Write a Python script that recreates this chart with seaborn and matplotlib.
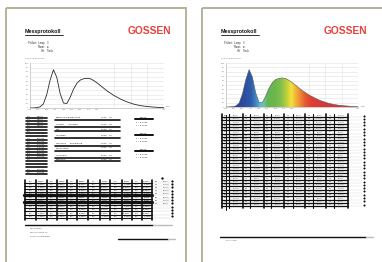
import numpy as np
import matplotlib
matplotlib.use("Agg")
import matplotlib.pyplot as plt
import seaborn as sns
import pandas as pd
from matplotlib.colors import LinearSegmentedColormap
from matplotlib.patches import Rectangle, Polygon

# ---------------- data ----------------
wavelengths = [380, 390, 400, 410, 420, 430, 440, 450, 460, 470, 480, 490, 500,
               510, 520, 530, 540, 550, 560, 570, 580, 590, 600, 610, 620, 630,
               640, 650, 660, 670, 680, 690, 700, 710, 720, 730, 740, 750, 760,
               770, 780]
power = [0.0, 0.2, 0.8, 2.5, 9.0, 30.0, 62.0, 85.0, 68.0, 32.0, 11.0, 10.0, 24.0,
         42.0, 55.0, 62.0, 65.0, 66.0, 65.0, 61.0, 56.0, 50.0, 44.0, 38.0, 33.0,
         28.0, 24.0, 20.0, 16.5, 13.5, 11.0, 8.5, 6.8, 5.3, 4.2, 3.3, 2.6, 2.0,
         1.5, 1.0, 0.6]
x_tick_values = [380, 405, 430, 455, 480, 505, 530, 555, 580, 780]
x_grid_values = [380, 430, 480, 530, 580, 630, 680, 730, 780]
y_tick_values = [0, 10, 20, 30, 40, 50, 60, 70, 80, 90, 100]
y_axis_label = "Leistung [mW/nm]"
x_axis_label = "[nm]"
title_text = "Messprotokoll"
brand_text = "GOSSEN"
info_labels = ["Prüfort:  Lamp", "Raum:", "Ort:"]
info_values = ["3", "xx", "Tisch"]
address_lines = ["Musterfirma", "Musterstraße 12", "12345 Musterstadt"]
signature_label = "Unterschrift"
colour_labels = ["Farbort", "Farbort", "Farbort"]
colour_x = ["x = 0,4483", "x = 0,4481", "x = 0,4479"]
colour_y = ["y = 0,4067", "y = 0,4064", "y = 0,4062"]

sns.set_theme(style="white")
plt.rcParams['font.family'] = ['Liberation Sans', 'DejaVu Sans']

W, H = 382, 262
fig = plt.figure(figsize=(W / 100, H / 100), dpi=100)
bg = fig.add_axes([0, 0, 1, 1])
bg.set_xlim(0, W)
bg.set_ylim(H, 0)
bg.axis('off')

BORDER = '#b0ab94'
bg.add_patch(Rectangle((6, 8), 180, 262, fill=False, ec=BORDER, lw=1.3))
bg.add_patch(Rectangle((202, 8), 190, 262, fill=False, ec=BORDER, lw=1.3))

def header(ox):
    bg.text(25 + ox, 31.5, title_text, fontsize=3.9, weight='bold', va='center', color='#111')
    bg.plot([25 + ox, 63 + ox], [35, 35], color='#111', lw=0.6)
    bg.text(128 + ox, 31, brand_text, fontsize=7.4, weight='bold', va='center', color='#e8403c')
    for i, (lab, val) in enumerate(zip(info_labels, info_values)):
        bg.text(45 + ox, 43 + 4 * i, lab, fontsize=1.9, ha='right', va='center', color='#333')
        bg.text(47 + ox, 43 + 4 * i, val, fontsize=1.9, ha='left', va='center', color='#333')

header(0)
header(196)

# ---------------- charts ----------------
stops = [(380, '#2a3585'), (430, '#2b4a9f'), (455, '#2f5aa8'), (470, '#3f86c4'),
         (485, '#5fc0d8'), (495, '#70c49a'), (505, '#66b552'), (530, '#6cb84e'),
         (550, '#8cc24a'), (565, '#c2d13c'), (578, '#f1e33a'), (590, '#f3b83a'),
         (605, '#ee8a35'), (620, '#e65a30'), (640, '#dd3d33'), (700, '#d6363a'),
         (780, '#c93a3e')]
spec_cmap = LinearSegmentedColormap.from_list(
    'spec', [((w - 380) / 400, c) for w, c in stops])

df = pd.DataFrame({'wl': wavelengths, 'p': power})

def px_axes(x0, y0, x1, y1):
    return fig.add_axes([x0 / W, 1 - y1 / H, (x1 - x0) / W, (y1 - y0) / H])

def draw_chart(ax, rainbow):
    ax.set_facecolor('white')
    if rainbow:
        grad = np.linspace(380, 780, 400).reshape(1, -1)
        im = ax.imshow(grad, extent=[380, 780, 0, 100], aspect='auto', cmap=spec_cmap,
                       vmin=380, vmax=780, origin='lower', zorder=2)
        verts = [(wavelengths[0], 0)] + list(zip(wavelengths, power)) + [(wavelengths[-1], 0)]
        poly = Polygon(verts, closed=True, transform=ax.transData, fc='none', ec='none')
        ax.add_patch(poly)
        im.set_clip_path(poly)
        sns.lineplot(data=df, x='wl', y='p', ax=ax, color='#555555', lw=0.4, zorder=3)
    else:
        sns.lineplot(data=df, x='wl', y='p', ax=ax, color='#2a2a2a', lw=0.6, zorder=3)
    ax.set_xlim(380, 780)
    ax.set_ylim(0, 100)
    ax.set_xticks(x_tick_values)
    ax.set_xticklabels([str(v) for v in x_tick_values])
    ax.set_xticks(x_grid_values, minor=True)
    ax.set_yticks(y_tick_values)
    ax.set_yticklabels([str(v) for v in y_tick_values])
    ax.tick_params(axis='both', which='both', length=0, labelsize=1.7,
                   labelcolor='#777', pad=1)
    ax.grid(False)
    ax.grid(which='minor', axis='x', color='#e2e2e2', lw=0.4)
    ax.grid(which='major', axis='y', color='#e2e2e2', lw=0.4)
    ax.set_xlabel('')
    ax.set_ylabel('')
    for s in ['top', 'right']:
        ax.spines[s].set_visible(False)
    for s in ['left', 'bottom']:
        ax.spines[s].set_color('#bbbbbb')
        ax.spines[s].set_linewidth(0.5)

ax1 = px_axes(30, 63, 164, 108)
draw_chart(ax1, False)
ax2 = px_axes(226, 63, 358, 107)
draw_chart(ax2, True)
for ox, xr in [(0, 166), (196, 361)]:
    bg.text(25 + ox, 58.5, y_axis_label, fontsize=1.7, color='#777', va='center')
    bg.text(xr, 106.5, x_axis_label, fontsize=1.7, color='#777', va='center')

def fmt(v):
    return f"{v:.4f}".replace('.', ',')

n = len(wavelengths)
TXT = '#222222'

# ---------------- page 1 tables ----------------
for i in range(19):
    y = 116.5 + i * 3.1
    k = i % n
    bg.text(27, y, str(wavelengths[k]), fontsize=1.6, color=TXT, va='center')
    bg.text(37, y, fmt(power[k]), fontsize=1.6, color=TXT, va='center')
    bg.plot([26, 47], [y + 1.3, y + 1.3], color='#111', lw=1.2)

mid_rows = [(117, 119.5), (124.5, 127), (129, 131), (135, 137.5), (143, 145.5),
            (148, 150.5), (155, 157.5), (159, 161)]
mid_txt = ["Bezeichnung/Messwert", "Uhrzeit        Sonstige", "Bez.",
           "Lichtfarbe", "Messung      Bemerkung", "Beleuchtung",
           "Lichtquelle", "Spektrum"]
for (yt, yl), t in zip(mid_rows, mid_txt):
    bg.text(56, yt, t, fontsize=1.7, color=TXT, va='center')
    bg.text(101, yt, "0000    00", fontsize=1.7, color=TXT, va='center')
    bg.plot([55, 120], [yl, yl], color='#111', lw=1.2)

for j in range(3):
    y0 = 117 + j * 16
    bg.text(140, y0, colour_labels[j], fontsize=1.6, color=TXT, va='center')
    bg.plot([135, 153], [y0 + 2, y0 + 2], color='#111', lw=1.4)
    bg.text(136, y0 + 5.5, colour_x[j], fontsize=1.7, color=TXT, va='center')
    bg.text(136, y0 + 8.5, colour_y[j], fontsize=1.7, color=TXT, va='center')

col_x = [25, 36, 47, 57, 67, 77, 88, 100, 110, 122, 132, 142, 152]
rows1 = 12
for r in range(rows1):
    y = 181 + r * 3.2
    for c in range(12):
        k = (r * 6 + c // 2) % n
        t = str(wavelengths[k]) if c % 2 == 0 else fmt(power[k])
        bg.text((col_x[c] + col_x[c + 1]) / 2, y, t, fontsize=1.5, color=TXT,
                ha='center', va='center')
    lw = 2.4 if r in (4, 6) else 0.8
    bg.plot([24, 152], [y + 1.5, y + 1.5], color='#111', lw=lw)
    bg.plot([152, 170], [y + 1.5, y + 1.5], color='#cccccc', lw=0.3)
    if r < 8:
        bg.text(155, y, str(wavelengths[(r * 5) % n]), fontsize=1.4, color=TXT, va='center')
        bg.text(163, y, fmt(power[(r * 5) % n]), fontsize=1.4, color=TXT, va='center')
    bg.plot([172], [y], marker='s', ms=0.6, color='#111')
for x in col_x:
    bg.plot([x, x], [179.5, 219.5], color='#111', lw=1.2)
bg.plot([162], [178], marker='s', ms=0.7, color='#111')

bg.plot([25, 153], [225, 225], color='#111', lw=1.0)
bg.plot([153, 172], [225, 225], color='#bbbbbb', lw=1.0)
for i, t in enumerate(address_lines):
    bg.text(30, 228 + 4 * i, t, fontsize=1.7, color='#555', va='center')
bg.plot([118, 168], [239, 239], color='#111', lw=1.0)
bg.plot([168, 175], [239, 239], color='#bbbbbb', lw=1.0)

# ---------------- page 2 table ----------------
col2 = [222, 229, 243, 250, 264, 271, 284, 293, 305, 313, 326, 334, 348]
rows2 = 28
for r in range(rows2):
    y = 115.5 + r * 3.3
    for c in range(12):
        k = (r * 6 + c // 2) % n
        t = str(wavelengths[k]) if c % 2 == 0 else fmt(power[k])
        bg.text((col2[c] + col2[c + 1]) / 2, y, t, fontsize=1.4, color='#333',
                ha='center', va='center')
    bg.plot([221, 348], [y + 1.5, y + 1.5], color='#111', lw=0.9)
    bg.plot([348, 362], [y + 1.5, y + 1.5], color='#dddddd', lw=0.3)
    bg.plot([364], [y], marker='s', ms=0.5, color='#111')
for i, x in enumerate(col2):
    bg.plot([x, x], [113.5, 208], color='#111', lw=1.2 if i % 2 == 0 else 0.8)
bg.plot([226, 226], [115, 210], color='#111', lw=0.7)

bg.plot([220, 366], [237, 237], color='#111', lw=1.0)
bg.plot([366, 373], [237, 237], color='#bbbbbb', lw=1.0)
bg.text(226, 240, signature_label, fontsize=1.6, color='#666', va='center')

fig.savefig('out.png', dpi=100, facecolor='white')
